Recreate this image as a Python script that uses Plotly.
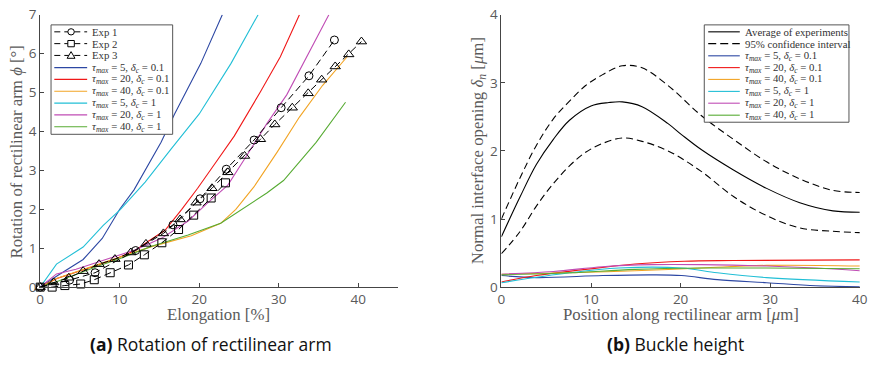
import plotly.graph_objects as go

W, H = 876, 371

# ---------------- Panel (a) data ----------------
exp1_x = [0, 3.7, 6.9, 12.0, 16.7, 20.1, 23.4, 26.9, 30.3, 33.8, 37.0]
exp1_y = [0, 0.18, 0.37, 0.94, 1.60, 2.27, 3.03, 3.78, 4.61, 5.43, 6.35]

exp2_x = [0, 1.5, 3.1, 5.1, 6.8, 8.8, 11.1, 13.1, 15.3, 17.4, 19.3, 21.5, 23.3]
exp2_y = [0, 0.0, 0.04, 0.08, 0.19, 0.37, 0.57, 0.83, 1.14, 1.48, 1.85, 2.29, 2.68]

exp3_x = [0, 1.7, 3.6, 5.4, 7.4, 9.4, 11.4, 13.3, 15.5, 17.6, 19.6, 21.6, 23.6,
          25.7, 27.7, 29.5, 31.7, 33.7, 35.4, 37.1, 38.8, 40.4]
exp3_y = [0, 0.12, 0.24, 0.41, 0.59, 0.72, 0.89, 1.11, 1.38, 1.74, 2.17, 2.54, 2.95,
          3.37, 3.80, 4.18, 4.61, 4.98, 5.33, 5.67, 5.98, 6.31]

a_t5_d01_x = [0, 2.2, 5.4, 7.8, 10.0, 11.8, 15.2, 16.9, 20.2, 22.9]
a_t5_d01_y = [0, 0.30, 0.71, 1.25, 2.0, 2.5, 3.72, 4.45, 5.75, 7.0]

a_t20_d01_x = [0, 2.1, 9.1, 12.0, 13.6, 15.7, 17.8, 19.8, 21.9, 24.4, 27.7, 30.2, 32.6]
a_t20_d01_y = [0, 0.22, 0.69, 0.95, 1.18, 1.46, 2.0, 2.54, 3.15, 3.88, 5.02, 5.92, 7.0]

a_t40_d01_x = [0, 2.05, 9.0, 14.0, 19.0, 22.7, 24.6, 26.9, 29.8, 32.6, 35.5, 38.6]
a_t40_d01_y = [0, 0.22, 0.70, 1.04, 1.32, 1.64, 2.0, 2.58, 3.47, 4.37, 5.18, 5.92]

a_t5_d1_x = [0, 2.05, 5.4, 7.9, 10.1, 13.2, 16.5, 20.0, 24.0, 27.4]
a_t5_d1_y = [0, 0.59, 1.03, 1.58, 2.0, 2.7, 3.56, 4.45, 5.75, 7.0]

a_t20_d1_x = [0, 2.05, 4.5, 8.7, 12.0, 15.3, 18.6, 21.1, 23.6, 26.0, 28.5, 31.0, 33.5, 36.3]
a_t20_d1_y = [0, 0.34, 0.46, 0.75, 0.96, 1.26, 1.70, 2.17, 2.62, 3.39, 4.20, 4.94, 5.92, 7.0]

a_t40_d1_x = [0, 2.05, 7.4, 9.9, 14.0, 18.6, 22.7, 28.5, 30.6, 34.7, 38.4]
a_t40_d1_y = [0, 0.14, 0.55, 0.72, 1.05, 1.34, 1.64, 2.42, 2.74, 3.72, 4.75]

# ---------------- Panel (b) data ----------------
pos_avg = [0, 2.1, 3.9, 5.8, 7.6, 10.0, 12.0, 13.5, 15.7, 18.6, 20.1, 22.3, 25.9, 29.6, 33.3, 37.0, 40.0]
avg_y = [0.74, 1.33, 1.80, 2.17, 2.45, 2.66, 2.71, 2.72, 2.65, 2.40, 2.24, 2.02, 1.72, 1.45, 1.24, 1.12, 1.10]

pos_ci = [0, 2.1, 3.9, 5.8, 7.6, 9.4, 11.3, 13.5, 15.7, 18.6, 22.3, 25.9, 29.6, 33.3, 37.0, 40.0]
ci_up = [1.0, 1.61, 2.08, 2.47, 2.73, 2.96, 3.12, 3.25, 3.22, 2.96, 2.52, 2.17, 1.84, 1.59, 1.42, 1.39]
ci_lo = [0.49, 0.82, 1.19, 1.52, 1.78, 1.98, 2.11, 2.19, 2.14, 2.0, 1.70, 1.33, 1.05, 0.87, 0.82, 0.80]

b_t5_d01_x = [0, 3.9, 11.3, 16.8, 20.1, 24.1, 29.6, 35.1, 40.0]
b_t5_d01_y = [0.17, 0.14, 0.17, 0.18, 0.17, 0.11, 0.065, 0.02, 0.005]
b_t20_d01_x = [0, 3.9, 9.4, 14.9, 20.4, 25.9, 40.0]
b_t20_d01_y = [0.075, 0.17, 0.26, 0.34, 0.38, 0.39, 0.40]
b_t40_d01_x = [0, 7.6, 14.9, 22.3, 29.6, 40.0]
b_t40_d01_y = [0.19, 0.21, 0.24, 0.28, 0.32, 0.31]
b_t5_d1_x = [0, 7.6, 13.1, 20.1, 24.1, 29.6, 40.0]
b_t5_d1_y = [0.065, 0.21, 0.28, 0.28, 0.21, 0.14, 0.075]
b_t20_d1_x = [0, 5.8, 11.3, 16.8, 22.3, 29.6, 35.1, 40.0]
b_t20_d1_y = [0.19, 0.23, 0.30, 0.33, 0.33, 0.31, 0.28, 0.24]
b_t40_d1_x = [0, 7.6, 14.9, 22.3, 29.6, 40.0]
b_t40_d1_y = [0.18, 0.21, 0.26, 0.28, 0.28, 0.27]

# ---------------- labels / styles ----------------
model_labels = [
    "<i>τ</i><sub><i>max</i></sub> = 5, <i>δ</i><sub><i>c</i></sub> = 0.1",
    "<i>τ</i><sub><i>max</i></sub> = 20, <i>δ</i><sub><i>c</i></sub> = 0.1",
    "<i>τ</i><sub><i>max</i></sub> = 40, <i>δ</i><sub><i>c</i></sub> = 0.1",
    "<i>τ</i><sub><i>max</i></sub> = 5, <i>δ</i><sub><i>c</i></sub> = 1",
    "<i>τ</i><sub><i>max</i></sub> = 20, <i>δ</i><sub><i>c</i></sub> = 1",
    "<i>τ</i><sub><i>max</i></sub> = 40, <i>δ</i><sub><i>c</i></sub> = 1",
]
model_colors = ["#2c47a3", "#f01818", "#f2a424", "#22bfd6", "#c04db5", "#57ab33"]
exp_labels = ["Exp 1", "Exp 2", "Exp 3"]
exp_symbols = ["circle-open", "square-open", "triangle-up-open"]
exp_sizes = [8, 8, 9]

SERIF = "Liberation Serif"
SANS = "Open Sans"
GRAY_TXT = "#5a5a5a"
AX = "#454545"
DASH = "7px,4px"

fig = go.Figure()

a_models = [(a_t5_d01_x, a_t5_d01_y), (a_t20_d01_x, a_t20_d01_y), (a_t40_d01_x, a_t40_d01_y),
            (a_t5_d1_x, a_t5_d1_y), (a_t20_d1_x, a_t20_d1_y), (a_t40_d1_x, a_t40_d1_y)]
for (xs, ys), c, lab in zip(a_models, model_colors, model_labels):
    fig.add_trace(go.Scatter(x=xs, y=ys, mode="lines", line=dict(color=c, width=1.1),
                             name=lab, showlegend=False, xaxis="x", yaxis="y"))

for xs, ys, sym, sz, lab in zip([exp1_x, exp2_x, exp3_x], [exp1_y, exp2_y, exp3_y],
                                exp_symbols, exp_sizes, exp_labels):
    fig.add_trace(go.Scatter(x=xs, y=ys, mode="lines+markers", name=lab, showlegend=False,
                             line=dict(color="black", width=1, dash=DASH),
                             marker=dict(symbol=sym, size=sz, color="black", line=dict(width=1)),
                             cliponaxis=False, xaxis="x", yaxis="y"))

b_models = [(b_t5_d01_x, b_t5_d01_y), (b_t20_d01_x, b_t20_d01_y), (b_t40_d01_x, b_t40_d01_y),
            (b_t5_d1_x, b_t5_d1_y), (b_t20_d1_x, b_t20_d1_y), (b_t40_d1_x, b_t40_d1_y)]
for (xs, ys), c, lab in zip(b_models, model_colors, model_labels):
    fig.add_trace(go.Scatter(x=xs, y=ys, mode="lines", line=dict(color=c, width=1.1, shape="spline"),
                             name=lab, showlegend=False, xaxis="x2", yaxis="y2"))

fig.add_trace(go.Scatter(x=pos_avg, y=avg_y, mode="lines", line=dict(color="black", width=1.1, shape="spline"),
                         name="Average of experiments", showlegend=False, xaxis="x2", yaxis="y2"))
for ys in (ci_up, ci_lo):
    fig.add_trace(go.Scatter(x=pos_ci, y=ys, mode="lines",
                             line=dict(color="black", width=1.1, dash=DASH, shape="spline"),
                             name="95% confidence interval", showlegend=False, xaxis="x2", yaxis="y2"))

# ---------------- axes ----------------
def px_x(p):
    return p / W

def px_y(p):
    return 1 - p / H

common = dict(showgrid=False, zeroline=False, showline=True, linecolor=AX, linewidth=1,
              ticks="inside", ticklen=4, tickcolor=AX, mirror=False,
              ticklabeloverflow="allow",
              tickfont=dict(family=SANS, size=13.5, color=GRAY_TXT))

fig.update_layout(
    width=W, height=H, margin=dict(l=0, r=0, t=0, b=0),
    paper_bgcolor="white", plot_bgcolor="white", showlegend=False,
    xaxis=dict(domain=[px_x(36.7), px_x(399.5)], range=[0, 45], tickvals=[0, 10, 20, 30, 40],
               anchor="y", **common),
    yaxis=dict(domain=[px_y(292.3), px_y(6.0)], range=[0, 7], tickvals=list(range(8)),
               anchor="x", **common),
    xaxis2=dict(domain=[px_x(504.3), px_x(867.7)], range=[0, 40], tickvals=[0, 10, 20, 30, 40],
                anchor="y2", **common),
    yaxis2=dict(domain=[px_y(292.3), px_y(6.0)], range=[0, 4], tickvals=[0, 1, 2, 3, 4],
                anchor="x2", **common),
)

annotations = []
shapes = []

def text(xp, yp, s, size=16.8, family=SERIF, color=GRAY_TXT, angle=0, xanchor="center"):
    annotations.append(dict(x=px_x(xp), y=px_y(yp), xref="paper", yref="paper", text=s,
                            showarrow=False, textangle=angle, xanchor=xanchor, yanchor="middle",
                            font=dict(family=family, size=size, color=color)))

# axis titles
text(217.5, 321, "Elongation [%]")
text(13, 150, "Rotation of rectilinear arm <i>ϕ</i> [°]", angle=-90)
text(686, 321, "Position along rectilinear arm [<i>μ</i>m]")
text(481, 149, "Normal interface opening <i>δ<sub>n</sub></i> [<i>μ</i>m]", angle=-90)

# captions
text(210, 352, "<b>(a)</b> Rotation of rectilinear arm", size=17.5, family=SANS, color="#111111")
text(681, 352, "<b>(b)</b> Buckle height", size=17.5, family=SANS, color="#111111")

# ---------------- hand-drawn legends ----------------
def rect(x0, y0, x1, y1):
    shapes.append(dict(type="rect", xref="paper", yref="paper",
                       x0=px_x(x0), x1=px_x(x1), y0=px_y(y1), y1=px_y(y0),
                       line=dict(color="#555555", width=1), fillcolor="white", layer="above"))

def seg(x0, x1, y, color, dash="solid", width=1.1):
    shapes.append(dict(type="line", xref="paper", yref="paper",
                       x0=px_x(x0), x1=px_x(x1), y0=px_y(y), y1=px_y(y),
                       line=dict(color=color, width=width, dash=dash)))

def marker(cx, cy, kind):
    r = 3.3
    if kind == "circle-open":
        shapes.append(dict(type="circle", xref="paper", yref="paper",
                           x0=px_x(cx - r), x1=px_x(cx + r), y0=px_y(cy + r), y1=px_y(cy - r),
                           line=dict(color="black", width=1), fillcolor="white"))
    elif kind == "square-open":
        shapes.append(dict(type="rect", xref="paper", yref="paper",
                           x0=px_x(cx - r), x1=px_x(cx + r), y0=px_y(cy + r), y1=px_y(cy - r),
                           line=dict(color="black", width=1), fillcolor="white"))
    else:
        path = "M {} {} L {} {} L {} {} Z".format(px_x(cx - 4), px_y(cy + 3), px_x(cx + 4), px_y(cy + 3),
                                                 px_x(cx), px_y(cy - 4))
        shapes.append(dict(type="path", xref="paper", yref="paper", path=path,
                           line=dict(color="black", width=1), fillcolor="white"))

LEG = 10.8
# left legend
rect(47.7, 16.7, 171, 131.7)
rows_a = [24.0, 36.4, 48.8, 61.6, 74.0, 86.4, 98.9, 111.3, 123.8]
for i, (lab, sym) in enumerate(zip(exp_labels, exp_symbols)):
    y = rows_a[i]
    seg(51, 84.3, y, "black", dash="6px,4px", width=1)
    marker(68, y, sym)
    text(87.3, y, lab, size=LEG, color="#333333", xanchor="left")
for j, (lab, c) in enumerate(zip(model_labels, model_colors)):
    y = rows_a[3 + j]
    seg(51, 84.3, y, c)
    text(87.3, y, lab, size=LEG, color="#333333", xanchor="left")

# right legend
rect(710, 16.7, 856.7, 119)
rows_b = [24.0, 36.4, 49.2, 61.6, 74.0, 86.6, 99.0, 111.6]
seg(714, 746, rows_b[0], "black")
text(749.5, rows_b[0], "Average of experiments", size=LEG, color="#333333", xanchor="left")
seg(714, 746, rows_b[1], "black", dash="8px,4px")
text(749.5, rows_b[1], "95% confidence interval", size=LEG, color="#333333", xanchor="left")
for j, (lab, c) in enumerate(zip(model_labels, model_colors)):
    y = rows_b[2 + j]
    seg(714, 746, y, c)
    text(749.5, y, lab, size=LEG, color="#333333", xanchor="left")

fig.update_layout(annotations=annotations, shapes=shapes)
fig.write_html("out.html", config={"displayModeBar": False},
               post_script="document.body.style.margin='0';document.body.style.overflow='hidden';")
